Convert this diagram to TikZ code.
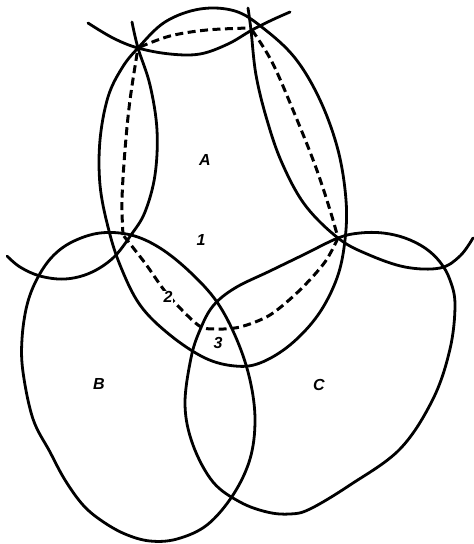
\documentclass[tikz,border=0pt]{standalone}
\usepackage{fontspec}
\setmainfont{Liberation Sans}
\begin{document}
\begin{tikzpicture}[x=1pt,y=-1pt]
\tikzset{
  curve/.style={draw=black, line width=2.8pt, line join=round, line cap=round},
  dashline/.style={draw=black, line width=3pt, dash pattern=on 8pt off 4.5pt, line cap=butt},
  lbl/.style={font=\fontsize{16}{16}\selectfont\bfseries\itshape, inner sep=0.5pt}
}
\useasboundingbox (0,0) rectangle (474,544);
\fill[white] (0,0) rectangle (474,544);

% big oval A
\draw[curve] plot[smooth cycle, tension=0.6] coordinates {
 (138,48) (165,22) (200,9) (235,11) (263,28) (295,58) (320,100) (338,150)
 (346,200) (345,240) (337,278) (318,315) (290,345) (260,363) (235,366)
 (205,358) (170,335) (140,305) (120,265) (108,227) (100,185) (100,140)
 (108,97) (122,68)};

% left lens right boundary + left smile arc
\draw[curve] plot[smooth, tension=0.6] coordinates {
 (132,22) (138,48) (150,85) (157,130) (155,175) (145,212) (131,235)
 (113,258) (90,273) (65,279) (40,276) (20,267) (7,256)};

% top smile arc
\draw[curve] plot[smooth, tension=0.6] coordinates {
 (88,23) (113,38) (138,48) (170,54) (200,54) (228,44) (252,30) (272,20) (290,12)};

% right lens left boundary + right smile arc
\draw[curve] plot[smooth, tension=0.6] coordinates {
 (248,8) (251,30) (256,75) (267,120) (282,163) (305,205) (338,238)
 (367,254) (405,267) (440,268) (460,256) (473,238)};

% B blob
\draw[curve] plot[smooth cycle, tension=0.6] coordinates {
 (131,235) (160,248) (190,272) (217,302) (237,340) (250,380) (255,420)
 (250,459) (233,495) (207,525) (177,539) (150,541) (125,534) (102,521)
 (83,505) (65,480) (50,452) (33,419) (23,372) (22,339) (27,305) (37,279)
 (52,257) (72,242) (100,233)};

% C blob
\draw[curve] plot[smooth cycle, tension=0.6] coordinates {
 (338,238) (303,255) (270,271) (235,288) (213,306) (200,330) (191,358)
 (185,405) (193,445) (213,482) (240,502) (267,512) (290,514) (310,509)
 (350,485) (400,449) (433,399) (450,349) (455,305) (450,280) (440,262)
 (425,248) (405,238) (383,233) (360,233)};

% dashed figure
\draw[dashline] plot[smooth, tension=0.6] coordinates {
 (140,47) (170,36) (207,30) (250,28)};
\draw[dashline] plot[smooth, tension=0.6] coordinates {
 (252,30) (272,62) (293,110) (315,165) (330,210) (338,238)};
\draw[dashline] plot[smooth, tension=0.5] coordinates {
 (338,238) (325,262) (300,290) (270,315) (240,327) (215,329) (198,325)
 (168,295) (145,263) (123,235)};
\draw[dashline] plot[smooth, tension=0.6] coordinates {
 (123,235) (122,200) (125,150) (130,100) (138,48)};

% labels
\node[lbl] (labA) at (205,160) {A};
\node[lbl] (lab1) at (201,240) {1};
\node[lbl, fill=white] (lab2) at (168,297) {2};
\node[lbl] (lab3) at (218,343) {3};
\node[lbl] (labB) at (99,384) {B};
\node[lbl] (labC) at (319,385) {C};
\end{tikzpicture}
\end{document}
